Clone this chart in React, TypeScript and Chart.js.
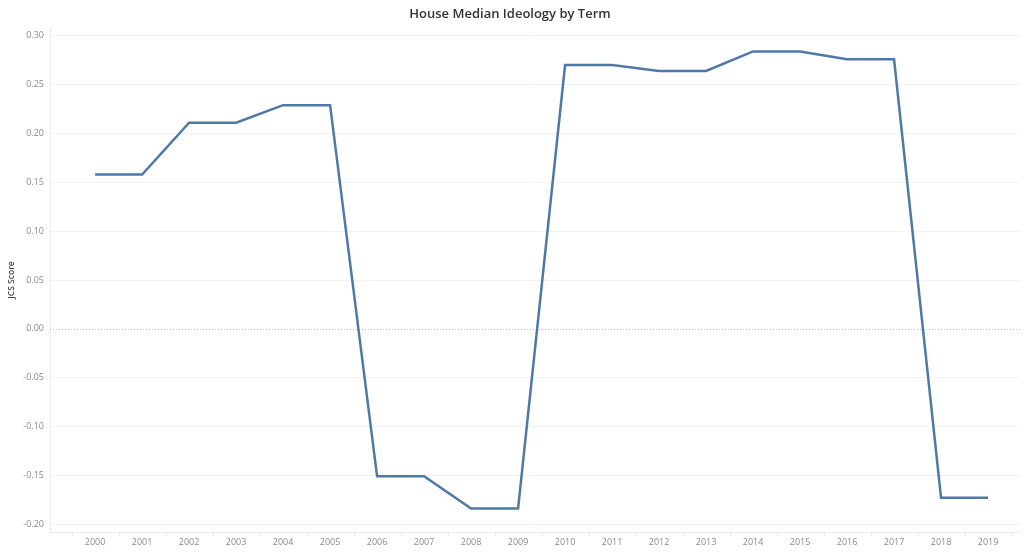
import React, { useEffect, useRef } from "react";
import { Chart, registerables } from "chart.js";

Chart.register(...registerables);

const years = [2000, 2001, 2002, 2003, 2004, 2005, 2006, 2007, 2008, 2009, 2010, 2011, 2012, 2013, 2014, 2015, 2016, 2017, 2018, 2019];
const jcsScores = [0.158, 0.158, 0.211, 0.211, 0.229, 0.229, -0.151, -0.151, -0.184, -0.184, 0.270, 0.270, 0.264, 0.264, 0.284, 0.284, 0.276, 0.276, -0.173, -0.173];
const yTicks = [0.3, 0.25, 0.2, 0.15, 0.1, 0.05, 0, -0.05, -0.1, -0.15, -0.2];

const extras = {
  id: "extras",
  beforeDatasetsDraw(chart: any) {
    const { ctx, chartArea, scales } = chart;
    const y0 = Math.round(scales.y.getPixelForValue(0)) + 0.5;
    ctx.save();
    ctx.strokeStyle = "#c8c8c8";
    ctx.lineWidth = 1;
    ctx.setLineDash([1, 2]);
    ctx.beginPath();
    ctx.moveTo(chartArea.left, y0);
    ctx.lineTo(chartArea.right, y0);
    ctx.stroke();
    ctx.setLineDash([]);
    ctx.strokeStyle = "#eaeaea";
    ctx.beginPath();
    for (let i = 0; i <= years.length; i++) {
      const x = Math.round(scales.x.getPixelForValue(years[0] - 0.5 + i)) + 0.5;
      ctx.moveTo(x, chartArea.bottom);
      ctx.lineTo(x, chartArea.bottom + 4);
    }
    ctx.stroke();
    ctx.restore();
  },
};

export default function App() {
  const ref = useRef<HTMLCanvasElement>(null);
  useEffect(() => {
    document.body.style.margin = "0";
    const chart = new Chart(ref.current!, {
      type: "line",
      data: {
        datasets: [
          {
            data: years.map((y, i) => ({ x: y, y: jcsScores[i] })),
            borderColor: "#4e79a7",
            borderWidth: 2.5,
            pointRadius: 0,
            tension: 0,
            fill: false,
          },
        ],
      },
      plugins: [extras],
      options: {
        animation: false,
        responsive: false,
        maintainAspectRatio: false,
        layout: { padding: { right: 4, left: 0, top: 0, bottom: 0 } },
        plugins: {
          legend: { display: false },
          tooltip: { enabled: false },
          title: {
            display: true,
            text: "House Median Ideology by Term",
            color: "#333333",
            font: { family: "Open Sans", size: 13, weight: "600" },
            padding: { top: 6, bottom: 6.4 },
          },
        },
        scales: {
          x: {
            type: "linear",
            min: 1999.04,
            max: 2019.68,
            afterBuildTicks(scale: any) {
              scale.ticks = years.map((v) => ({ value: v }));
            },
            afterFit(scale: any) {
              scale.height = 25;
            },
            ticks: {
              callback: (v: any) => String(v),
              color: "#8c8c8c",
              font: { family: "Open Sans", size: 9 },
              padding: 5,
              maxRotation: 0,
              autoSkip: false,
            },
            grid: { display: false, drawTicks: false },
            border: { display: true, color: "#ececec" },
          },
          y: {
            min: -0.208,
            max: 0.308,
            afterBuildTicks(scale: any) {
              scale.ticks = yTicks.map((v) => ({ value: v }));
            },
            afterFit(scale: any) {
              scale.width = 50;
            },
            ticks: {
              callback: (v: any) => Number(v).toFixed(2),
              color: "#8c8c8c",
              font: { family: "Open Sans", size: 9 },
              padding: 6,
            },
            grid: {
              drawTicks: false,
              color: (c: any) => (c.tick && Math.abs(c.tick.value) < 1e-9 ? "rgba(0,0,0,0)" : "#f2f2f2"),
            },
            border: { display: true, color: "#ececec" },
            title: {
              display: true,
              text: "JCS Score",
              color: "#444444",
              font: { family: "Open Sans", size: 8.5, weight: "600" },
              padding: { top: 6, bottom: 0 },
            },
          },
        },
      },
    });
    return () => chart.destroy();
  }, []);
  return <canvas ref={ref} width={1024} height={557} style={{ display: "block" }} />;
}
